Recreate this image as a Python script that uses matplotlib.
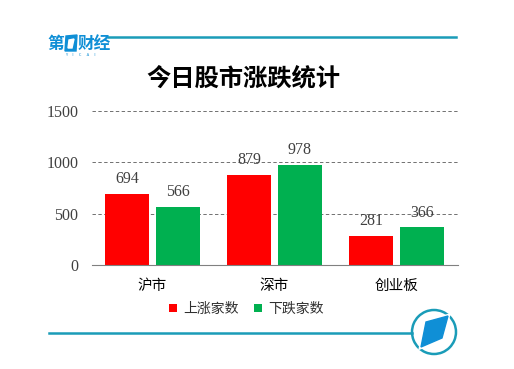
import numpy as np
import matplotlib
matplotlib.use('Agg')
import matplotlib.pyplot as plt
from matplotlib.patches import Polygon, Arc

plt.rcParams['font.family'] = ['Noto Sans CJK SC', 'DejaVu Sans']

categories = ['沪市', '深市', '创业板']
up_counts = [694, 879, 281]
down_counts = [566, 978, 366]
y_ticks = [0, 500, 1000, 1500]

W, H = 514, 369
fig = plt.figure(figsize=(W / 100, H / 100), dpi=100)

# overlay in pixel coords for the decoration
bg = fig.add_axes([0, 0, 1, 1])
bg.set_xlim(0, W)
bg.set_ylim(H, 0)
bg.axis('off')

teal = '#1a9cb8'
blue = '#0f8fd6'
bg.plot([108, 456], [37, 37], color=teal, lw=1.8)
bg.plot([49, 412], [333, 333], color=teal, lw=1.8)

# logo top left
bg.text(47, 43.5, '第', color=blue, fontsize=12, weight='bold', ha='left', va='center')
bg.add_patch(Polygon([[66, 36], [77, 35], [76, 51], [65, 51]], color=blue))
bg.add_patch(Polygon([[69, 40], [74, 39], [72, 48], [68, 48]], color='white'))
bg.text(78, 43.5, '财经', color=blue, fontsize=12, weight='bold', ha='left', va='center')
bg.text(80, 54.5, 'Y      I      C      A      I', color=blue, fontsize=3, ha='center', va='center')

# round logo bottom right
bg.add_patch(Arc((434, 332), 44, 44, theta1=0, theta2=360, color=teal, lw=1.8))
bg.add_patch(Polygon([[426, 322], [448, 316], [442, 338], [421, 347]], color='white', lw=3, zorder=2))
bg.add_patch(Polygon([[426, 322], [448, 316], [442, 338], [421, 347]], color=blue, zorder=3))

bg.text(243.5, 78, '今日股市涨跌统计', fontsize=17.5, weight='bold', ha='center', va='center', color='black')

# chart axes, x 91.5-457.5 px, y 111-265 px
ax = fig.add_axes([91.5 / W, 1 - 265 / H, 366 / W, 154 / H])
ax.patch.set_alpha(0)
x = np.arange(len(categories))
bw = 44 / 122
off = 25.5 / 122
b1 = ax.bar(x - off, up_counts, bw, color='#ff0000', label='上涨家数', zorder=2)
b2 = ax.bar(x + off, down_counts, bw, color='#00b050', label='下跌家数', zorder=2)
for bars, vals in ((b1, up_counts), (b2, down_counts)):
    for r, v in zip(bars, vals):
        ax.text(r.get_x() + r.get_width() / 2, v + 65, str(v), ha='center', va='bottom',
                fontsize=11.5, family='Liberation Serif', color='#404040', zorder=3)

ax.set_xlim(-0.5, 2.5)
ax.set_ylim(0, 1500)
ax.set_yticks(y_ticks)
ax.set_xticks(x, categories)
ax.tick_params(axis='y', length=0, labelsize=11.5, labelcolor='#404040', pad=9.5)
for lab in ax.get_yticklabels():
    lab.set_family('Liberation Serif')
ax.tick_params(axis='x', length=0, labelsize=10.5, labelcolor='black', pad=10)
ax.grid(axis='y', color='#707070', ls=(0, (3.5, 2.5)), lw=0.7, zorder=1)
for s in ('top', 'right', 'left'):
    ax.spines[s].set_visible(False)
ax.spines['bottom'].set_color('#808080')
ax.set_axisbelow(True)

fig.legend(loc='center', bbox_to_anchor=(246.5 / W, 1 - 309 / H), ncol=2, frameon=False,
           fontsize=10, handlelength=0.55, handleheight=0.55, handletextpad=0.45, columnspacing=1.1,
           labelcolor='#303030')

fig.savefig('out.png', dpi=100)
